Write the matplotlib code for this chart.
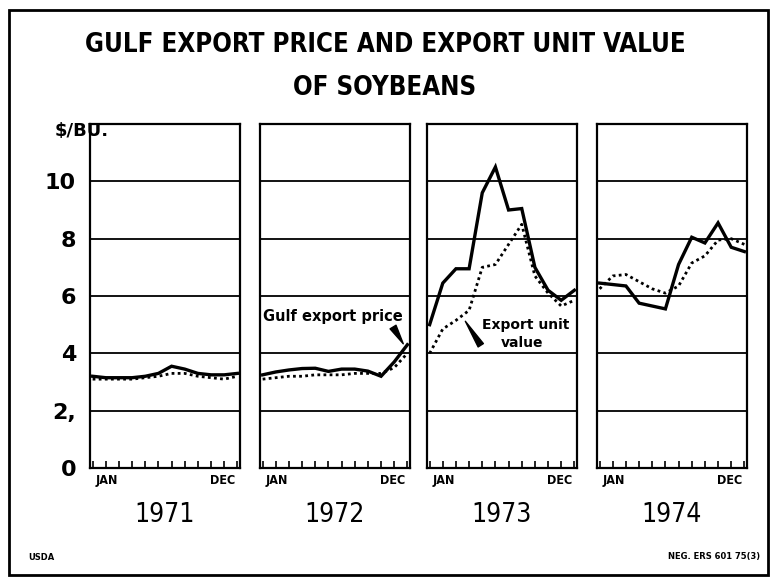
import numpy as np
import matplotlib.pyplot as plt
from matplotlib.patches import Rectangle

years = ['1971', '1972', '1973', '1974']

# Gulf export price, $/bu, monthly Jan..Dec
gulf_1971 = [3.2, 3.15, 3.15, 3.15, 3.2, 3.3, 3.55, 3.45, 3.3, 3.25, 3.25, 3.3]
gulf_1972 = [3.25, 3.35, 3.42, 3.47, 3.48, 3.37, 3.45, 3.45, 3.38, 3.2, 3.7, 4.3]
gulf_1973 = [5.0, 6.45, 6.95, 6.95, 9.6, 10.5, 9.0, 9.05, 7.0, 6.2, 5.85, 6.2]
gulf_1974 = [6.45, 6.4, 6.35, 5.75, 5.65, 5.55, 7.1, 8.05, 7.85, 8.55, 7.7, 7.55]

# Export unit value, $/bu
unit_1971 = [3.1, 3.1, 3.1, 3.1, 3.15, 3.2, 3.3, 3.3, 3.2, 3.15, 3.1, 3.2]
unit_1972 = [3.1, 3.15, 3.2, 3.2, 3.25, 3.25, 3.25, 3.3, 3.3, 3.3, 3.5, 4.0]
unit_1973 = [4.0, 4.85, 5.15, 5.5, 7.0, 7.1, 7.8, 8.5, 6.7, 6.1, 5.65, 5.85]
unit_1974 = [6.25, 6.7, 6.75, 6.5, 6.25, 6.1, 6.35, 7.15, 7.4, 7.95, 8.0, 7.8]

gulf = [gulf_1971, gulf_1972, gulf_1973, gulf_1974]
unit = [unit_1971, unit_1972, unit_1973, unit_1974]
yticks = [0, 2, 4, 6, 8, 10]
ytick_labels = ['0', '2,', '4', '6', '8', '10']

W, H = 771, 581
fig = plt.figure(figsize=(W / 100, H / 100), dpi=100)
fig.patch.set_facecolor('white')

# outer frame
fig.add_artist(Rectangle((9 / W, 6 / H), 759 / W, 565 / H, transform=fig.transFigure,
                         fill=False, ec='black', lw=2))

fig.text(385 / W, 1 - 45 / H, 'GULF EXPORT PRICE AND EXPORT UNIT VALUE', ha='center', va='center',
         fontsize=18.5, fontweight='heavy', fontstretch='condensed')
fig.text(385 / W, 1 - 88 / H, 'OF SOYBEANS', ha='center', va='center',
         fontsize=18.5, fontweight='heavy', fontstretch='condensed')

lefts = [90, 260, 427, 597]
bottom = 468
top = 124
months = np.arange(12)
axes = []
for k, left in enumerate(lefts):
    ax = fig.add_axes([left / W, 1 - bottom / H, 150 / W, (bottom - top) / H])
    axes.append(ax)
    ax.set_xlim(-0.2, 11.2)
    ax.set_ylim(0, 12)
    for v in yticks[1:]:
        ax.axhline(v, color='black', lw=1.3, zorder=1)
    ax.plot(months, gulf[k], color='black', lw=2.4, solid_joinstyle='miter', zorder=3)
    ax.plot(months, unit[k], color='black', lw=2.0, linestyle=(0, (1, 1.2)), zorder=3)
    for s in ax.spines.values():
        s.set_linewidth(1.6)
    ax.set_xticks(months)
    ax.set_xticklabels([])
    ax.tick_params(axis='x', direction='in', length=5, width=1.2)
    ax.set_yticks(yticks)
    if k == 0:
        ax.set_yticklabels(ytick_labels, fontsize=16, fontweight='bold')
        ax.tick_params(axis='y', length=0, pad=10)
    else:
        ax.set_yticklabels([])
        ax.tick_params(axis='y', length=0)
    ax.text(0.04, -0.035, 'JAN', transform=ax.transAxes, ha='left', va='center',
            fontsize=9, fontweight='bold', fontstretch='condensed')
    ax.text(0.97, -0.035, 'DEC', transform=ax.transAxes, ha='right', va='center',
            fontsize=9, fontweight='bold', fontstretch='condensed')
    ax.text(0.5, -0.137, years[k], transform=ax.transAxes, ha='center', va='center',
            fontsize=19, fontstretch='condensed')

fig.text(55 / W, 1 - 131 / H, '$/BU.', ha='left', va='center', fontsize=13, fontweight='bold')

# annotations
ax2 = axes[1]
ax2.text(0.05, 5.3, 'Gulf export price', ha='left', va='center', fontsize=10.5,
         fontweight='bold', bbox=dict(fc='white', ec='none', pad=1), zorder=4)
ax2.annotate('', xy=(10.8, 4.25), xytext=(9.8, 5.0),
             arrowprops=dict(arrowstyle='wedge,tail_width=0.5', fc='black', ec='black'), zorder=4)

ax3 = axes[2]
ax3.text(7.3, 5.0, 'Export unit', ha='center', va='center', fontsize=10, fontweight='bold', zorder=4)
ax3.text(7.0, 4.35, 'value', ha='center', va='center', fontsize=10, fontweight='bold', zorder=4)
ax3.annotate('', xy=(2.6, 5.2), xytext=(4.0, 4.2),
             arrowprops=dict(arrowstyle='wedge,tail_width=0.45', fc='black', ec='black'), zorder=4)

fig.text(28 / W, 1 - 557 / H, 'USDA', ha='left', va='center', fontsize=6, fontweight='bold')
fig.text(760 / W, 1 - 557 / H, 'NEG. ERS 601 75(3)', ha='right', va='center', fontsize=6,
         fontweight='bold')

fig.savefig('out.png', dpi=100)
